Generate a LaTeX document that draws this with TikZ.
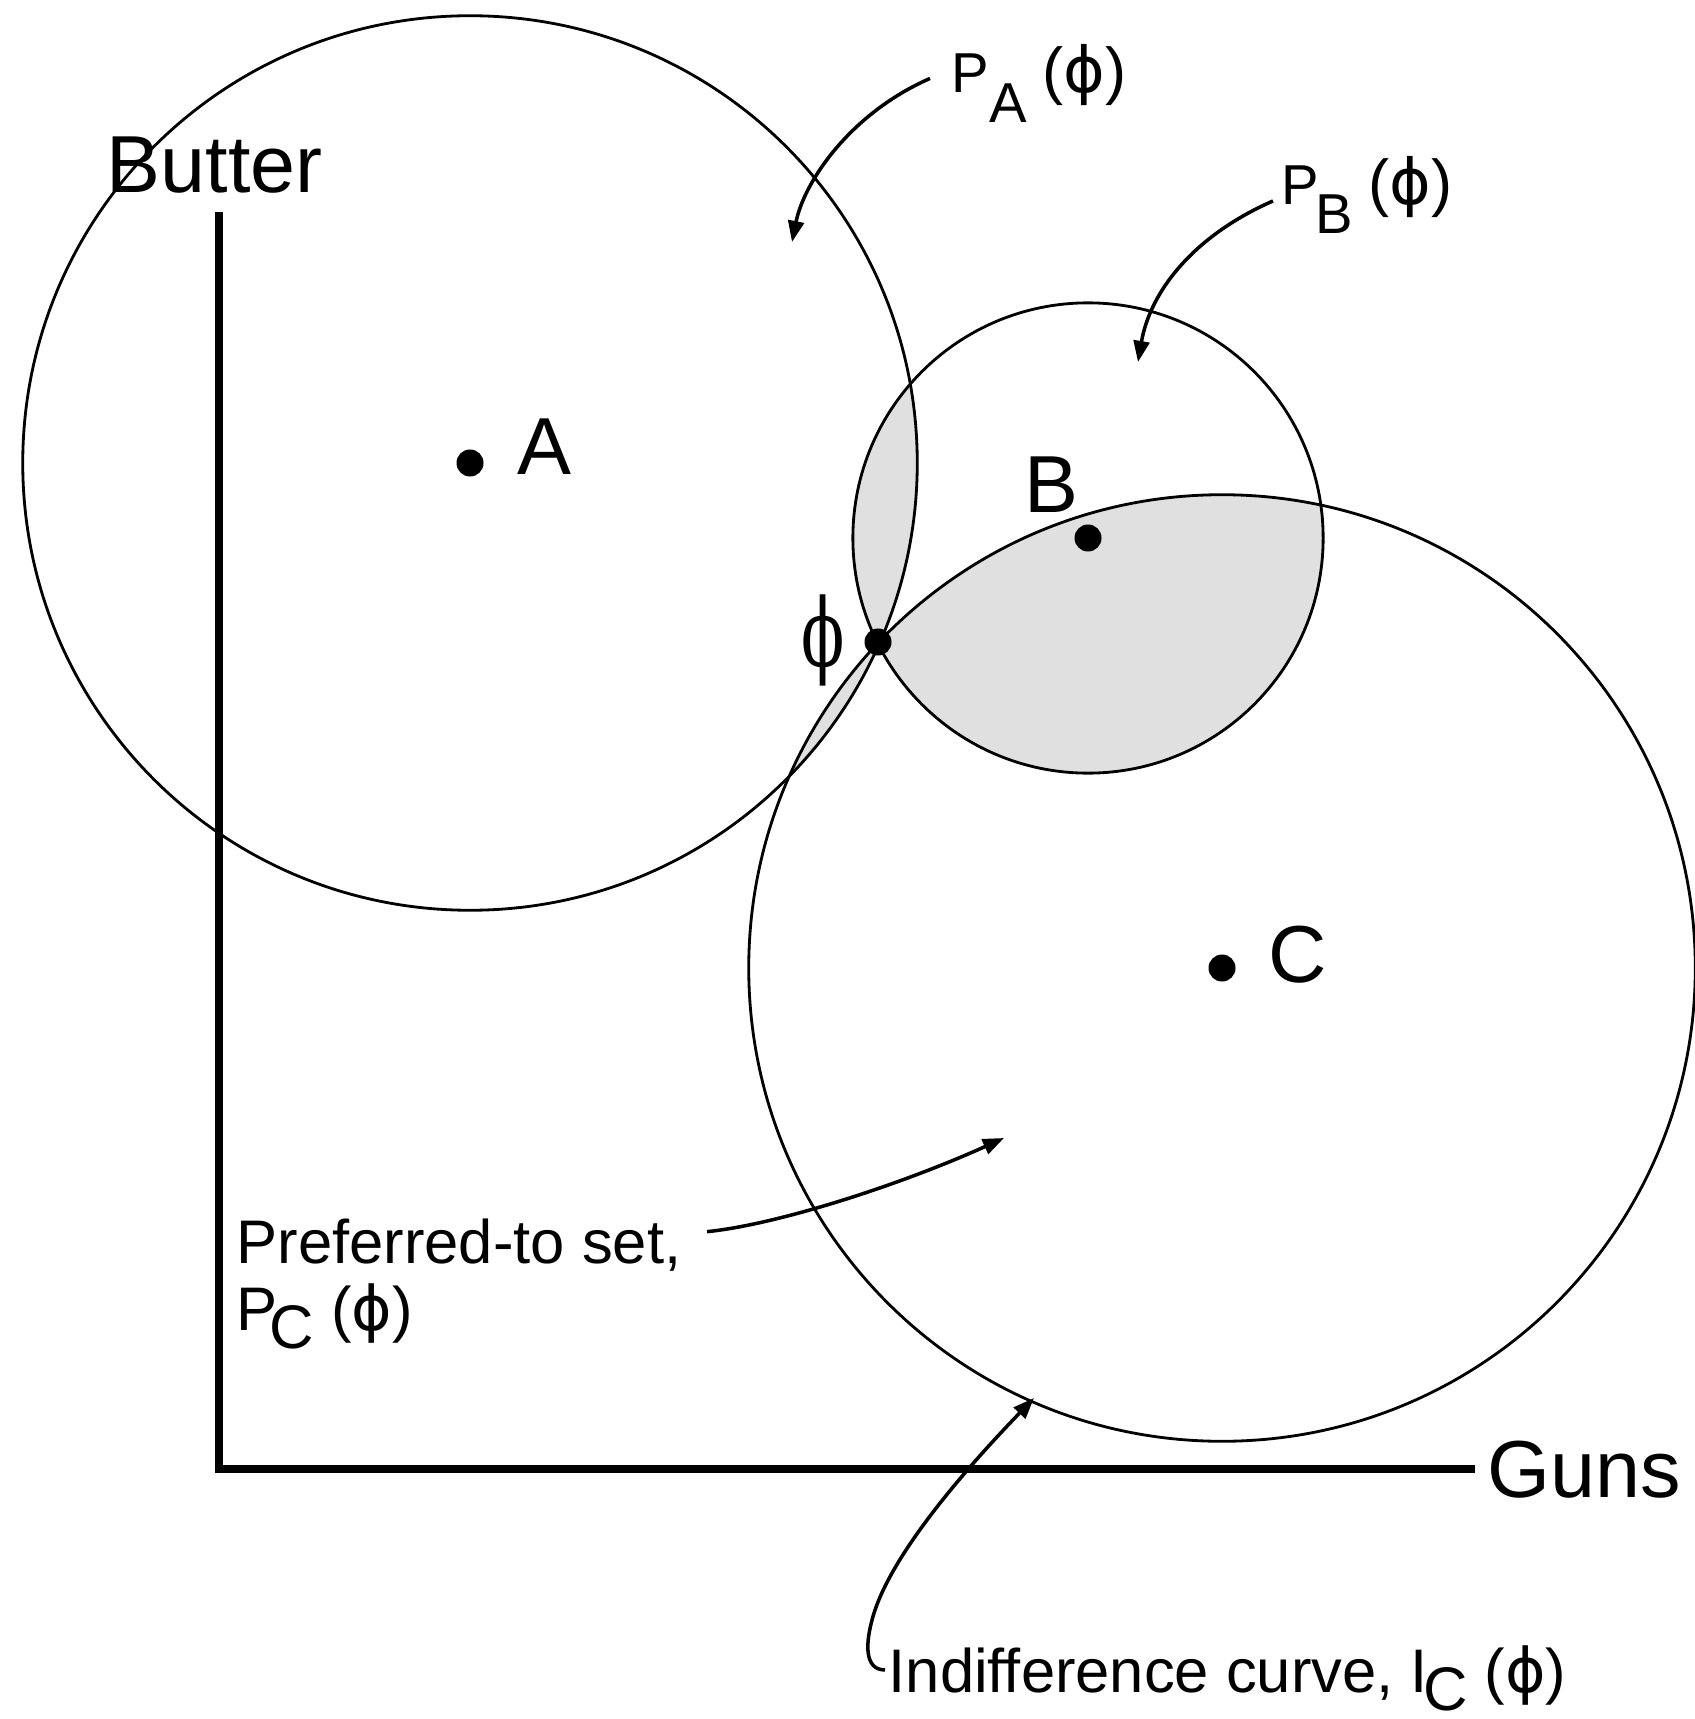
\documentclass[tikz,border=0pt]{standalone}
\usepackage{graphicx}
\usepackage{fontspec}
\setmainfont{Liberation Sans}
\newfontfamily\greekserif{DejaVu Serif}
\newfontfamily\greeksans{DejaVu Sans}
\usetikzlibrary{arrows.meta,calc}
\newcommand{\phisign}{{\greeksans\symbol{"03D5}}}

\begin{document}
\begin{tikzpicture}[x=0.01cm, y=-0.01cm,
    every node/.style={inner sep=0pt},
    axlabel/.style={anchor=base west, font=\fontsize{23}{27}\selectfont},
    setlabel/.style={anchor=base west, font=\fontsize{16}{18}\selectfont},
    note/.style={anchor=base west, font=\fontsize{17.5}{19}\selectfont},
    ideal/.style={circle, fill=black, minimum size=0.27cm},
    ring/.style={line width=0.8pt},
    axisline/.style={line width=2.2pt},
    winset/.style={fill=black!12},
    callout/.style={line width=1pt, -{Triangle[length=6pt, width=4.5pt]}}]

    \fill[white] (0,0) rectangle (1695,1719);
    \useasboundingbox (0,0) rectangle (1695,1719);

    \coordinate (cA) at (470,463);
    \coordinate (cB) at (1088,538);
    \coordinate (cC) at (1222,968);

    \begin{scope}
        \clip (cA) circle (4.47cm);
        \fill[winset] (cB) circle (2.35cm);
        \fill[winset] (cC) circle (4.73cm);
    \end{scope}
    \begin{scope}
        \clip (cB) circle (2.35cm);
        \fill[winset] (cC) circle (4.73cm);
    \end{scope}

    \draw[ring] (cA) circle (4.47cm);
    \draw[ring] (cB) circle (2.35cm);
    \draw[ring] (cC) circle (4.73cm);

    \draw[axisline] (219,212) |- (1475,1469);

    \node (A) [ideal] at (cA) {};
    \node (B) [ideal] at (cB) {};
    \node (C) [ideal] at (cC) {};
    \node (phi) [ideal] at (878,642) {};

    \node (labButter) [axlabel] at (106,193) {Butter};
    \node (labGuns) [axlabel] at (1487,1497) {Guns};
    \node (labA) [axlabel] at (517,475) {A};
    \node (labB) [axlabel] at (1024,512) {B};
    \node (labC) [axlabel] at (1268,982) {C};
    \node (labphi) [font=\greekserif\fontsize{22}{24}\selectfont] at (823,640) {\scalebox{0.82}[1.22]{\symbol{"03D5}}};

    \node (labPA) [setlabel] at (951,93) {P\raisebox{-0.29cm}{A} {\fontsize{18}{20}\selectfont(\phisign)}};
    \node (labPB) [setlabel] at (1281,205) {P\kern-0.04cm\raisebox{-0.28cm}{B} {\fontsize{18}{20}\selectfont(\phisign)}};
    \node (labPref) [note] at (236,1263) {Preferred-to set,};
    \node (labPC) [note] at (236,1330) {P\kern-0.08cm\raisebox{-0.18cm}{C} (\phisign)};
    \node (labIC) [note] at (888,1692) {Indifference curve, I\kern-0.05cm\raisebox{-0.18cm}{C} (\phisign)};

    \coordinate (tipPA) at (792,242);
    \coordinate (tipPB) at (1138,362);
    \coordinate (tipPC) at (1004,1138);
    \coordinate (tipIC) at (1034,1398);

    \draw[callout] ($(labPA.west)+(-21,-5)$) .. controls +(-80,35) and +(12,-60) .. (tipPA);
    \draw[callout] ($(labPB.west)+(-8,6)$) .. controls +(-80,35) and +(12,-70) .. (tipPB);
    \draw[callout] ($(labPref.east)+(25,-13)$) .. controls +(70,-7) and +(-104,47) .. (tipPC);
    \draw[callout] ($(labIC.west)+(-3,-8)$) .. controls +(-18,0) and +(-8,30) .. (872,1620)
        .. controls +(18,-70) and +(-50,52) .. (tipIC);
\end{tikzpicture}
\end{document}
